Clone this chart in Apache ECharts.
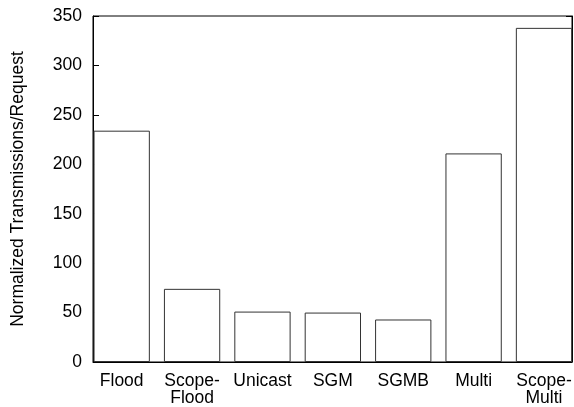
<!DOCTYPE html>
<html><head><meta charset="utf-8">
<script src="https://cdn.jsdelivr.net/npm/echarts@6/dist/echarts.min.js"></script>
<style>html,body{margin:0;padding:0;background:#fff}#c{width:574px;height:407px}</style>
</head><body><div id="c"></div>
<script>
const categories = ["Flood", "Scope-\nFlood", "Unicast", "SGM", "SGMB", "Multi", "Scope-\nMulti"];
const values = [234, 74, 51, 50, 43, 211, 338];
const yTicks = [0, 50, 100, 150, 200, 250, 300, 350];
const yAxisTitle = "Normalized Transmissions/Request";

const chart = echarts.init(document.getElementById('c'), null, {renderer: 'canvas'});
const font = 'Liberation Sans, Arial, Helvetica, sans-serif';
const FS = 17.5;
const yMin = yTicks[0], yMax = yTicks[yTicks.length - 1];
const yBase = {
  type: 'value', min: yMin, max: yMax, interval: 50, gridIndex: 0,
  splitLine: {show: false},
  axisLine: {show: true, lineStyle: {color: '#000', width: 1}},
  axisTick: {show: true, inside: true, length: 6, lineStyle: {color: '#000'}}
};
chart.setOption({
  animation: false,
  grid: [
    {left: 93, right: 2, top: 16, bottom: 45, show: true, borderColor: '#000', borderWidth: 1,
     containLabel: false, outerBoundsMode: 'none'},
    {left: 121.7, right: 30, top: 16, bottom: 45, containLabel: false, outerBoundsMode: 'none'}
  ],
  xAxis: [
    {type: 'value', gridIndex: 0, min: 0, max: 1, axisLine: {show: true, lineStyle: {color: '#000'}},
     axisTick: {show: false}, axisLabel: {show: false}, splitLine: {show: false}},
    {type: 'category', gridIndex: 1, data: categories, boundaryGap: false,
     axisLine: {show: false},
     axisTick: {show: true, inside: true, length: 6, lineStyle: {color: '#000'}},
     axisLabel: {color: '#000', fontSize: FS, fontFamily: font, margin: 11, lineHeight: 17, interval: 0},
     splitLine: {show: false}}
  ],
  yAxis: [
    Object.assign({}, yBase, {
      position: 'left',
      name: yAxisTitle, nameLocation: 'middle', nameGap: 66, nameRotate: 90,
      nameTextStyle: {color: '#000', fontSize: FS, fontFamily: font},
      axisLabel: {color: '#000', fontSize: FS, fontFamily: font, margin: 11}
    }),
    Object.assign({}, yBase, {position: 'right', axisLabel: {show: false}}),
    {type: 'value', gridIndex: 1, min: yMin, max: yMax, show: false}
  ],
  series: [{
    type: 'bar', data: values, barWidth: 56.3, xAxisIndex: 1, yAxisIndex: 2,
    itemStyle: {color: '#fff', borderColor: '#333', borderWidth: 1}
  }]
});
</script></body></html>
